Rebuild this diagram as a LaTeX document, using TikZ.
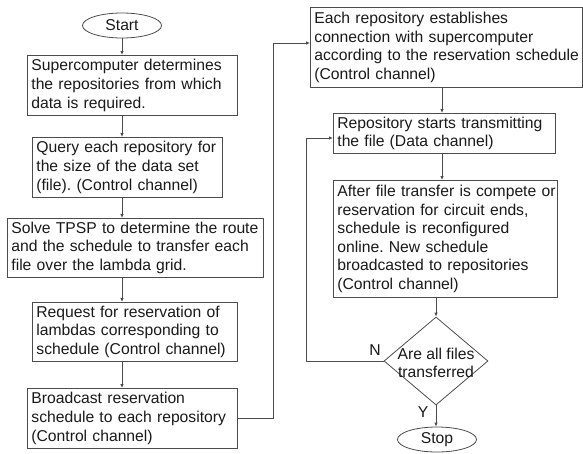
\documentclass[tikz,border=0pt]{standalone}
\usepackage{fontspec}
\setmainfont{Liberation Sans}
\usetikzlibrary{shapes.geometric,arrows.meta}
\begin{document}
\begin{tikzpicture}[x=1pt,y=-1pt,
  every node/.style={text=black!90},
  pbox/.style={draw=black!70, line width=0.8pt, align=left, anchor=north west,
    inner xsep=4pt, inner ysep=0pt, font=\fontsize{15.7}{18.6}\selectfont\frenchspacing},
  term/.style={draw=black!70, line width=0.8pt, ellipse, minimum width=79pt,
    minimum height=25pt, inner sep=0pt, font=\fontsize{15.7}{18.6}\selectfont},
  lbl/.style={inner sep=0pt, font=\fontsize{15.7}{18.6}\selectfont},
  arr/.style={draw=black!70, line width=0.8pt, -{Latex[length=4pt,width=3.5pt]}},
  ln/.style={draw=black!70, line width=0.8pt}]
\useasboundingbox (0,0) rectangle (583,453);

\node[term] (start) at (122,25.5) {Start};
\node[pbox, text width=202pt, minimum height=60pt] (b1) at (27,55)
  {\mbox{Supercomputer determines}\\\mbox{the repositories from which}\\\mbox{data is required.}};
\node[pbox, text width=182pt, minimum height=60pt] (b2) at (32,137)
  {\mbox{Query each repository for}\\\mbox{the size of the data set}\\\mbox{(file). (Control channel)}};
\node[pbox, text width=248pt, minimum height=59pt] (b3) at (7,218)
  {\mbox{Solve TPSP to determine the route}\\\mbox{and the schedule to transfer each}\\\mbox{file over the lambda grid.}};
\node[pbox, text width=197pt, minimum height=59pt] (b4) at (32,302)
  {\mbox{Request for reservation of}\\\mbox{lambdas corresponding to}\\\mbox{schedule (Control channel)}};
\node[pbox, text width=202pt, minimum height=60pt] (b5) at (27,388)
  {\mbox{Broadcast reservation}\\\mbox{schedule to each repository}\\\mbox{(Control channel)}};

\node[pbox, text width=264pt, minimum height=80pt] (b6) at (310,7)
  {\mbox{Each repository establishes}\\\mbox{connection with supercomputer}\\\mbox{according to the reservation schedule}\\\mbox{(Control channel)}};
\node[pbox, text width=214pt, minimum height=40pt] (b7) at (333,113)
  {\mbox{Repository starts transmitting}\\\mbox{the file (Data channel)}};
\node[pbox, text width=216pt, minimum height=117pt] (b8) at (333,180)
  {\mbox{After file transfer is compete or}\\\mbox{reservation for circuit ends,}\\\mbox{schedule is reconfigured}\\\mbox{online. New schedule}\\\mbox{broadcasted to repositories}\\\mbox{(Control channel)}};

\node[draw=black!70, line width=0.8pt, diamond, minimum width=104pt,
  minimum height=88pt, inner sep=0pt] (dia) at (436,361) {};
\node[lbl, align=center] (dtext) at (436,363) {Are all files\\transferred};
\node[term] (stop) at (437,439.5) {Stop};

\node[lbl] (nl) at (375,350) {N};
\node[lbl] (yl) at (423,412) {Y};

% left column arrows
\draw[arr] (start.south) -- (start.south |- b1.north);
\draw[arr] (b1.south -| start) -- (b2.north -| start);
\draw[arr] (b2.south -| start) -- (b3.north -| start);
\draw[arr] (b3.south -| start) -- (b4.north -| start);
\draw[arr] (b4.south -| start) -- (b5.north -| start);

% link to right column
\coordinate (j1) at (273,43);
\draw[arr] (b5.east) -| (j1) -- (j1 -| b6.west);

% right column arrows
\coordinate (cx) at (442,0);
\draw[arr] (b6.south -| cx) -- (b7.north -| cx);
\draw[arr] (b7.south -| cx) -- (b8.north -| cx);
\draw[arr] (b8.south -| dia.north) -- (dia.north);
\draw[arr] (dia.south) -- (dia.south |- stop.north);

% loop back
\coordinate (j2) at (306,138);
\draw[arr] (dia.west) -| (j2) -- (j2 -| b7.west);
\end{tikzpicture}
\end{document}
